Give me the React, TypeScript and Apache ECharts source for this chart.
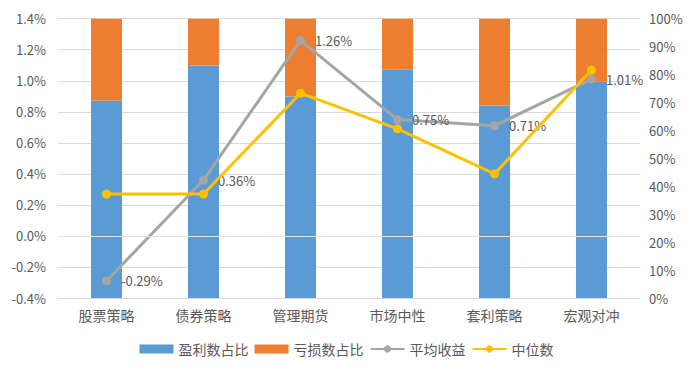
import React, { useEffect, useRef } from "react";
import * as echarts from "echarts";

const categories = ["股票策略", "债券策略", "管理期货", "市场中性", "套利策略", "宏观对冲"];
const profitShare = [70.6, 83.2, 72.1, 81.7, 68.9, 77.4];
const lossShare = [29.4, 16.8, 27.9, 18.3, 31.1, 22.6];
const avgReturn = [-0.29, 0.36, 1.26, 0.75, 0.71, 1.01];
const medianReturn = [0.27, 0.27, 0.92, 0.69, 0.4, 1.07];

const FONT = "'Noto Sans CJK SC', 'Noto Sans', sans-serif";
const TXT = "#595959";

export default function App() {
  const ref = useRef<HTMLDivElement>(null);
  useEffect(() => {
    if (!ref.current) return;
    const chart = echarts.init(ref.current, null, { renderer: "svg" });
    chart.setOption({
      animation: false,
      textStyle: { fontFamily: FONT },
      grid: { left: 58, right: 53, top: 18.7, bottom: 79, containLabel: false },
      legend: {
        bottom: 16,
        left: "center",
        itemWidth: 34,
        itemHeight: 9,
        itemGap: 6,
        textStyle: { color: TXT, fontSize: 14, fontFamily: FONT },
        data: [
          { name: "盈利数占比", icon: "rect" },
          { name: "亏损数占比", icon: "rect" },
          { name: "平均收益" },
          { name: "中位数" },
        ],
      },
      xAxis: {
        type: "category",
        data: categories,
        axisLine: { show: false },
        axisTick: { show: false },
        axisLabel: { color: TXT, fontSize: 14, margin: 10, fontFamily: FONT },
      },
      yAxis: [
        {
          type: "value",
          min: -0.4,
          max: 1.4,
          interval: 0.2,
          axisLine: { show: false },
          axisTick: { show: false },
          splitLine: { lineStyle: { color: "#d9d9d9", width: 1 } },
          axisLabel: {
            color: TXT,
            fontSize: 13,
            margin: 12,
            fontFamily: FONT,
            formatter: (v: number) => v.toFixed(1) + "%",
          },
        },
        {
          type: "value",
          min: 0,
          max: 100,
          interval: 10,
          axisLine: { show: false },
          axisTick: { show: false },
          splitLine: { show: false },
          axisLabel: {
            color: TXT,
            fontSize: 13,
            margin: 9,
            fontFamily: FONT,
            formatter: (v: number) => Math.round(v) + "%",
          },
        },
      ],
      series: [
        {
          name: "盈利数占比",
          type: "bar",
          stack: "share",
          yAxisIndex: 1,
          barWidth: 31,
          itemStyle: { color: "#5B9BD5" },
          data: profitShare,
        },
        {
          name: "亏损数占比",
          type: "bar",
          stack: "share",
          yAxisIndex: 1,
          barWidth: 31,
          itemStyle: { color: "#ED7D31" },
          data: lossShare,
        },
        {
          name: "平均收益",
          type: "line",
          yAxisIndex: 0,
          symbol: "circle",
          symbolSize: 9,
          lineStyle: { color: "#A5A5A5", width: 3 },
          itemStyle: { color: "#A5A5A5" },
          label: {
            show: true,
            position: "right",
            distance: 10,
            color: TXT,
            fontSize: 13,
            fontFamily: FONT,
            formatter: (p: any) => p.value.toFixed(2) + "%",
          },
          markLine: {
            silent: true,
            symbol: "none",
            label: { show: false },
            lineStyle: { color: "#e3e3e3", width: 1, type: "solid" },
            data: [{ yAxis: 0 }],
          },
          data: avgReturn,
          z: 3,
        },
        {
          name: "中位数",
          type: "line",
          yAxisIndex: 0,
          symbol: "circle",
          symbolSize: 9,
          lineStyle: { color: "#FFC000", width: 3 },
          itemStyle: { color: "#FFC000" },
          data: medianReturn,
          z: 4,
        },
      ],
    });
    return () => chart.dispose();
  }, []);
  return <div ref={ref} style={{ width: 693, height: 377, position: "absolute", left: 0, top: 0 }} />;
}
